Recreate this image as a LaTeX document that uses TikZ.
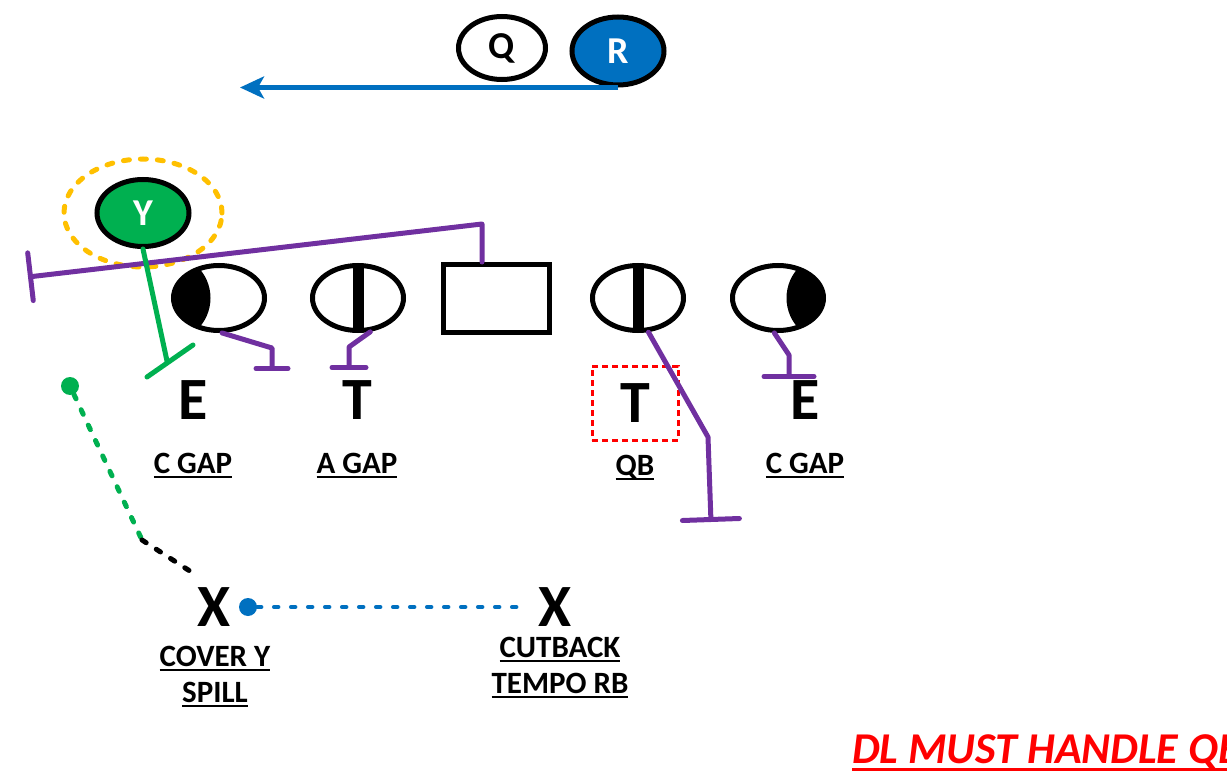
\documentclass[tikz,border=0pt]{standalone}
\usepackage{fontspec}
\setmainfont{Carlito}
\usetikzlibrary{arrows.meta,positioning,shapes.geometric}

\definecolor{runblue}{HTML}{0070C0}
\definecolor{ygreen}{HTML}{00B050}
\definecolor{blockpurple}{HTML}{7030A0}
\definecolor{spillgold}{HTML}{FFC000}

% underline: optional depth below the baseline
\newcommand{\undl}[2][5pt]{\setbox0\hbox{#2}\leavevmode\rlap{\rule[-#1]{\wd0}{2pt}}\box0}

\begin{document}
\begin{tikzpicture}[x=1pt,y=-1pt,
  player/.style={ellipse,draw,line width=5pt,inner sep=0pt,minimum width=87pt,minimum height=63pt,font=\fontsize{38}{38}\bfseries},
  lineman/.style={ellipse,draw,line width=5pt,inner sep=0pt,minimum width=91pt,minimum height=65pt},
  endL/.style={lineman,path picture={\fill ([xshift=-9pt]path picture bounding box.west) ellipse [x radius=46pt,y radius=45pt];}},
  endR/.style={lineman,path picture={\fill ([xshift=9pt]path picture bounding box.east) ellipse [x radius=46pt,y radius=45pt];}},
  tackle/.style={lineman,path picture={\fill ([xshift=-5.5pt]path picture bounding box.north) rectangle ([xshift=5.5pt]path picture bounding box.south);}},
  big/.style={inner sep=0pt,font=\fontsize{60}{60}\bfseries},
  lbl/.style={anchor=base,inner sep=0pt,align=center,font=\fontsize{31}{36}\bfseries},
  block/.style={blockpurple,line width=5pt,line cap=round,line join=round},
  dot/.style={circle,inner sep=0pt,minimum size=18pt},
  trail/.style={line width=5pt,line cap=round,dash pattern=on 5pt off 12pt}]
  \useasboundingbox (0,0) rectangle (1227,773);

  % backfield
  \node[player]                                  (Q) at (502,48) {Q};
  \node[player,fill=runblue,text=white,minimum width=92pt,minimum height=68pt] (R) at (618,51) {R};
  \coordinate (runto) at (240,86);
  \draw[runblue,line width=5pt,-{Stealth[length=24pt,width=22pt,inset=6pt]}] (R.south) -- (R.south -| runto);

  % wing
  \node[ellipse,draw=spillgold,line width=5pt,line cap=round,dash pattern=on 6pt off 11pt,
        minimum width=158pt,minimum height=108pt] (ring) at (143,213) {};
  \node[player,fill=ygreen,text=white,minimum width=92pt,minimum height=67pt] (Y) at (143,213) {Y};

  % front
  \node[endL]   (lE) at (219,298) {};
  \node[tackle] (lT) at (358,298) {};
  \node[draw,line width=5pt,minimum width=106pt,minimum height=68pt] (C) at (496,298.5) {};
  \node[tackle] (rT) at (638,298) {};
  \node[endR]   (rE) at (778,298) {};

  \node[big] (E1) at (193,400) {E};
  \node[big] (T1) at (357,400) {T};
  \node[big,draw=red,line width=3pt,dash pattern=on 6pt off 4pt,minimum width=86pt,minimum height=74pt] (T2) at (635,403) {T};
  \node[big] (E2) at (805,400) {E};

  \node[lbl] (g1) at (193,473) {\undl{C GAP}};
  \node[lbl] (g2) at (357,473) {\undl{A GAP}};
  \node[lbl] (g3) at (635,475) {\undl{QB}};
  \node[lbl] (g4) at (805,473) {\undl{C GAP}};

  % blocks
  \coordinate (lEk) at (272,348);
  \coordinate (lTk) at (349,347);
  \coordinate (rTk) at (708,437);
  \coordinate (rEk) at (789,355);
  \coordinate (Ck)  at (482,224);
  \coordinate (Cto) at (28,277);
  \draw[block,-{Bar[width=32pt,round]}] (lE.275) -- (lEk) -- ++(0,23);
  \draw[block,-{Bar[width=34pt,round]}] (lT.290) -- (lTk) -- ++(0,23);
  \draw[block,-{Bar[width=57pt,round]}] (rT.287) -- (rTk) -- (711,522);
  \draw[block,-{Bar[width=50pt,round]}] (rE.264) -- (rEk) -- ++(0,24);
  \draw[block,-{Bar[width=48pt,round]}] ([xshift=-14pt]C.north) -- (Ck) -- (Cto);

  \coordinate (ystop) at (167,361);
  \draw[ygreen,line width=5pt,line cap=round] (Y.south) -- (ystop)
        ([shift={(-20,16)}]ystop) -- ([shift={(26,-16)}]ystop);

  % second level
  \node[big] (x1) at (214,607) {X};
  \node[big] (x2) at (555,607) {X};
  \node[lbl] (cov) at (215,702) {\undl{COVER Y}\\\undl{SPILL}};
  \node[lbl] (cut) at (560,693) {\undl{CUTBACK}\\\undl{TEMPO RB}};

  \node[dot,fill=ygreen]  (ydot) at (70,386) {};
  \coordinate (ycut) at (142,540);
  \coordinate (yfit) at (196,575);
  \draw[trail,ygreen] (ydot) -- (ycut);
  \draw[trail]        (ycut) -- (yfit);

  \node[dot,fill=runblue] (xdot) at (248,607) {};
  \coordinate (xend) at (520,607);
  \draw[trail,runblue,line width=4.5pt,dash pattern=on 4pt off 13pt] (xdot) -- (xend);

  \node[anchor=base west,inner sep=0pt,text=red,font=\fontsize{44}{44}\bfseries\itshape] (dl) at (852,763)
       {\setbox0\hbox{DL MUST HANDLE QB}\rlap{\rule[-8pt]{\wd0}{3pt}}\box0};
\end{tikzpicture}
\end{document}
